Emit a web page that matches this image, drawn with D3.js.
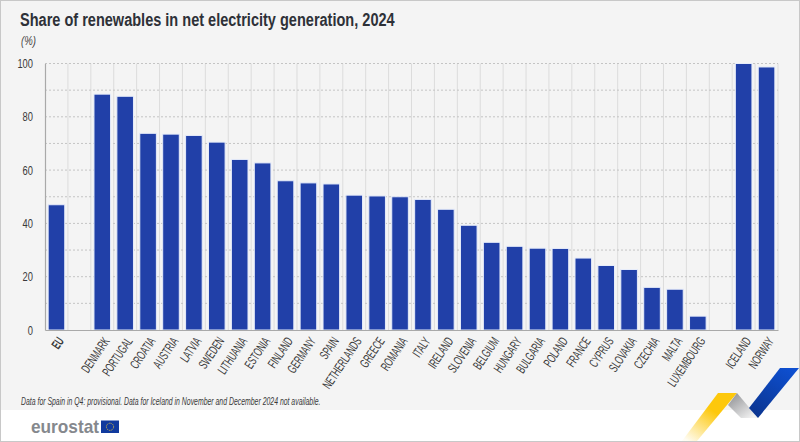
<!DOCTYPE html>
<html>
<head>
<meta charset="utf-8">
<script src="https://cdn.jsdelivr.net/npm/d3@7"></script>
<style>
  html, body { margin: 0; padding: 0; background: #fff; }
  svg { display: block; }
  text { font-family: "Liberation Sans", sans-serif; }
</style>
</head>
<body>
<div id="chart"></div>
<script>
// blanks keep the gaps around the EU and the EFTA groups
const categories = ["EU", "gap1", "DENMARK", "PORTUGAL", "CROATIA", "AUSTRIA", "LATVIA", "SWEDEN",
  "LITHUANIA", "ESTONIA", "FINLAND", "GERMANY", "SPAIN", "NETHERLANDS", "GREECE", "ROMANIA",
  "ITALY", "IRELAND", "SLOVENIA", "BELGIUM", "HUNGARY", "BULGARIA", "POLAND", "FRANCE",
  "CYPRUS", "SLOVAKIA", "CZECHIA", "MALTA", "LUXEMBOURG", "gap2", "ICELAND", "NORWAY"];
const values = [47, null, 88.5, 87.7, 73.8, 73.5, 73, 70.5,
  64, 62.7, 56, 55.2, 54.8, 50.6, 50.3, 50,
  49, 45.3, 39.3, 32.9, 31.4, 30.7, 30.6, 27,
  24.2, 22.7, 16, 15.3, 5.2, null, 100, 98.7];
const yTicks = [0, 20, 40, 60, 80, 100];
const yGrid = [10, 20, 30, 40, 50, 60, 70, 80, 90, 100];

const width = 800, height = 442;
const margin = {top: 63.5, right: 22, bottom: 112, left: 45};

const svg = d3.select("#chart").append("svg")
    .attr("width", width)
    .attr("height", height);

const defs = svg.append("defs");
const addGrad = (id, x1, y1, x2, y2, stops) => {
  const g = defs.append("linearGradient").attr("id", id)
      .attr("x1", x1).attr("y1", y1).attr("x2", x2).attr("y2", y2);
  stops.forEach(s => g.append("stop").attr("offset", s[0]).attr("stop-color", s[1]).attr("stop-opacity", s[2]));
};
addGrad("yellowGrad", 0.6, 0.4, 0.1, 1, [[0, "#fdc80c", 1], [1, "#fdc80c", 0.05]]);
addGrad("greyGrad", 0.2, 0.1, 0.9, 0.9, [[0, "#9a9b9e", 1], [1, "#f2f2f2", 1]]);
addGrad("blueGrad", 0.8, 0, 0.2, 1, [[0, "#0e4fd0", 1], [1, "#0b3590", 1]]);

// page background
svg.append("rect").attr("width", width).attr("height", 410).attr("fill", "#f4f4f4");

const x = d3.scaleBand()
    .domain(categories)
    .range([margin.left, width - margin.right]);

const y = d3.scaleLinear()
    .domain([0, 100])
    .range([height - margin.bottom, margin.top]);

// vertical grid
svg.append("g").selectAll("line")
    .data(categories.slice(1))
  .enter().append("line")
    .attr("x1", d => x(d)).attr("x2", d => x(d))
    .attr("y1", y(100)).attr("y2", y(0))
    .attr("stroke", "#dcdcdc")
    .attr("stroke-width", 1);

svg.append("line")
    .attr("x1", width - margin.right).attr("x2", width - margin.right)
    .attr("y1", y(100)).attr("y2", y(0))
    .attr("stroke", "#dcdcdc");

// horizontal dotted grid
svg.append("g").selectAll("line")
    .data(yGrid)
  .enter().append("line")
    .attr("x1", margin.left).attr("x2", width - margin.right)
    .attr("y1", d => y(d)).attr("y2", d => y(d))
    .attr("stroke", "#c4c4c4")
    .attr("stroke-dasharray", "2,2")
    .attr("stroke-width", 1);

// bars
const barW = 16.6;
svg.append("g").selectAll("rect")
    .data(categories.map((c, i) => ({c, v: values[i]})).filter(d => d.v !== null))
  .enter().append("rect")
    .attr("x", d => x(d.c) + (x.bandwidth() - barW) / 2)
    .attr("width", barW)
    .attr("y", d => y(d.v))
    .attr("height", d => y(0) - y(d.v))
    .attr("fill", "#2140a8")
    .attr("stroke", "#e6ecfa")
    .attr("stroke-width", 1);

// axes
const yAxis = svg.append("g")
    .attr("transform", `translate(${margin.left},0)`)
    .call(d3.axisLeft(y).tickValues(yTicks).tickSize(0).tickPadding(0));
yAxis.select(".domain").attr("stroke", "#a9a9a9").attr("stroke-width", 1.2);
yAxis.selectAll("text")
    .attr("font-size", 13)
    .attr("fill", "#3a3a3a")
    .attr("x", 0)
    .attr("transform", "translate(-12,0) scale(0.72,1)");

const xAxis = svg.append("g")
    .attr("transform", `translate(0,${y(0)})`)
    .call(d3.axisBottom(x).tickSize(0).tickFormat(d => d.startsWith("gap") ? "" : d));
xAxis.select(".domain").attr("stroke", "#a9a9a9").attr("stroke-width", 1.2);
xAxis.selectAll("text")
    .attr("text-anchor", "end")
    .attr("font-size", 13)
    .attr("fill", "#3a3a3a")
    .attr("font-weight", d => d === "EU" ? "bold" : "normal")
    .attr("dx", 0)
    .attr("dy", 0)
    .attr("y", 0)
    .attr("transform", "translate(8,11) rotate(-56) scale(0.61,1)");

// no condensed face is installed, so the text is squeezed horizontally
const narrowText = (px, py, sx) => svg.append("text")
    .attr("transform", `translate(${px},${py}) scale(${sx},1)`);

narrowText(20, 26, 0.765)
    .attr("font-size", 19)
    .attr("font-weight", "bold")
    .attr("fill", "#2e3138")
    .text("Share of renewables in net electricity generation, 2024");

narrowText(21, 45, 0.8)
    .attr("font-size", 12)
    .attr("font-style", "italic")
    .attr("fill", "#444")
    .text("(%)");

narrowText(21, 405, 0.6)
    .attr("font-size", 11.5)
    .attr("font-style", "italic")
    .attr("fill", "#3a3a3a")
    .text("Data for Spain in Q4: provisional. Data for Iceland in November and December 2024 not available.");

// eurostat logo
svg.append("text")
    .attr("x", 31).attr("y", 433)
    .attr("font-size", 19)
    .attr("font-weight", "bold")
    .attr("fill", "#85888d")
    .attr("textLength", 68)
    .attr("lengthAdjust", "spacingAndGlyphs")
    .text("eurostat");

svg.append("rect")
    .attr("x", 101).attr("y", 420.5)
    .attr("width", 18).attr("height", 12.5)
    .attr("fill", "#103a9e");
svg.append("circle")
    .attr("cx", 110).attr("cy", 426.8).attr("r", 3.6)
    .attr("fill", "none")
    .attr("stroke", "#e9c63a")
    .attr("stroke-width", 0.9)
    .attr("stroke-dasharray", "1,0.9");

// corner ribbon
const ribbon = [
  {fill: "url(#yellowGrad)", pts: [[718, 393], [737, 393], [697, 441], [682, 441]]},
  {fill: "url(#greyGrad)", pts: [[737, 393], [758, 418], [741, 418], [728, 405]]},
  {fill: "url(#blueGrad)", pts: [[780, 368], [799, 368], [758, 418], [749, 408]]}
];
svg.append("g").selectAll("polygon")
    .data(ribbon)
  .enter().append("polygon")
    .attr("points", d => d.pts.join(" "))
    .attr("fill", d => d.fill);

// outer border
svg.append("rect")
    .attr("x", 0.5).attr("y", 0.5)
    .attr("width", width - 1).attr("height", height - 1)
    .attr("fill", "none")
    .attr("stroke", "#c8c8c8");
</script>
</body>
</html>
